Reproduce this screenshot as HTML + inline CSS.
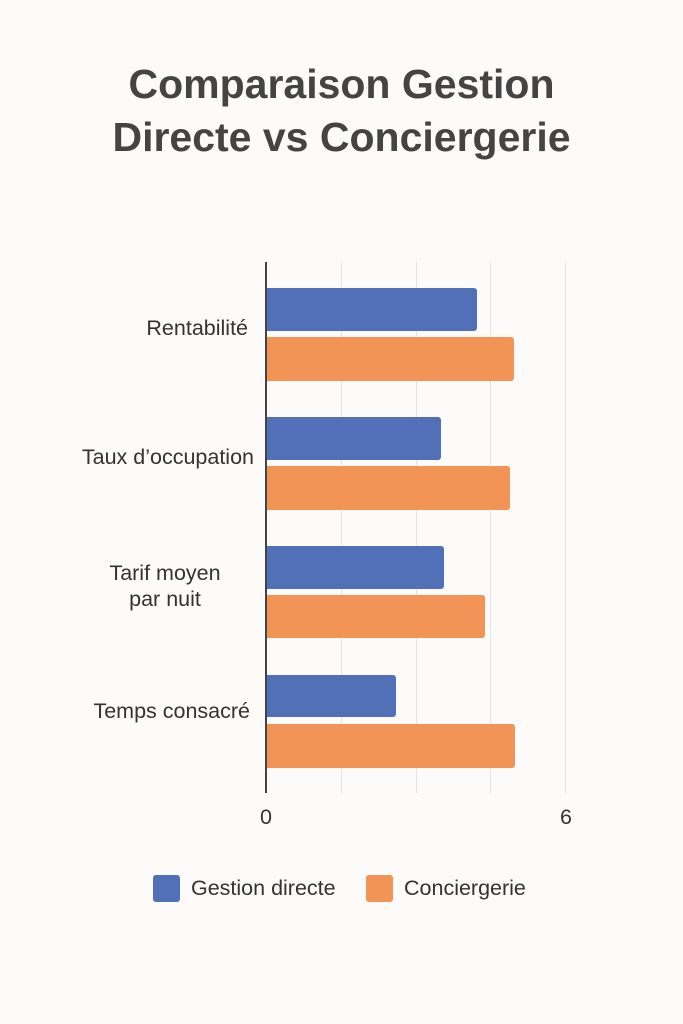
<!DOCTYPE html>
<html><head><meta charset="utf-8"><style>
body{margin:0;width:683px;height:1024px;background:#fcfbf9;font-family:"Liberation Sans","DejaVu Sans",sans-serif;position:relative;overflow:hidden;color:#333}
.t{position:absolute;left:0;width:683px;text-align:center;font-size:41px;font-weight:bold;color:#444}
.g{position:absolute;top:262px;height:531px;width:1px;background:#e6e4e2}
.b{position:absolute;left:267px;border-radius:0 3px 3px 0}
.bl{background:#5170b8}.or{background:#f19455}
.l{position:absolute;font-size:21.5px;text-align:center;color:#333;line-height:26px;white-space:nowrap}
</style></head><body>
<div class="t" style="top:61px">Comparaison Gestion</div>
<div class="t" style="top:114px">Directe vs Conciergerie</div>
<div class="g" style="left:341px"></div>
<div class="g" style="left:416px"></div>
<div class="g" style="left:490px"></div>
<div class="g" style="left:565px"></div>
<div style="position:absolute;left:265px;top:262px;width:2px;height:531px;background:#444"></div>
<div class="b bl" style="top:288px;width:210px;height:43px"></div>
<div class="b or" style="top:337px;width:247px;height:44px"></div>
<div class="b bl" style="top:417px;width:174px;height:43px"></div>
<div class="b or" style="top:466px;width:243px;height:44px"></div>
<div class="b bl" style="top:546px;width:177px;height:43px"></div>
<div class="b or" style="top:595px;width:218px;height:43px"></div>
<div class="b bl" style="top:675px;width:129px;height:42px"></div>
<div class="b or" style="top:724px;width:248px;height:44px"></div>
<div class="l" style="left:40px;width:208px;top:315px;text-align:right">Rentabilité</div>
<div class="l" style="left:20px;width:234px;top:444px;text-align:right">Taux d’occupation</div>
<div class="l" style="left:90px;width:150px;top:560px">Tarif moyen<br>par nuit</div>
<div class="l" style="left:20px;width:230px;top:698px;text-align:right">Temps consacré</div>
<div class="l" style="left:256px;width:20px;top:804px">0</div>
<div class="l" style="left:556px;width:20px;top:804px">6</div>
<div style="position:absolute;left:153px;top:875px;width:27px;height:27px;background:#5170b8;border-radius:3px"></div>
<div class="l" style="left:191px;top:875px">Gestion directe</div>
<div style="position:absolute;left:366px;top:875px;width:27px;height:27px;background:#f19455;border-radius:3px"></div>
<div class="l" style="left:404px;top:875px">Conciergerie</div>
</body></html>
